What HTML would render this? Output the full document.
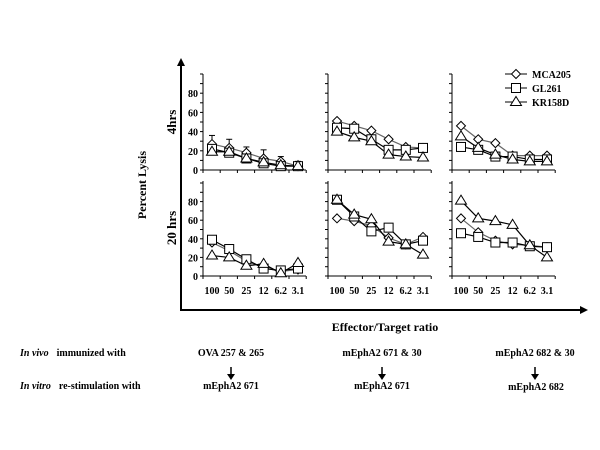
<!DOCTYPE html>
<html><head><meta charset="utf-8"><style>
body{margin:0;background:#fff}
svg{display:block;font-family:"Liberation Serif",serif;font-weight:bold}
</style></head><body>
<svg id="chart" width="600" height="450" viewBox="0 0 600 450">
<defs><marker id="ah" markerWidth="8" markerHeight="8" refX="4" refY="4" orient="auto" markerUnits="userSpaceOnUse"><path d="M0,0 L8,4 L0,8 z" fill="#000"/></marker></defs>
<line x1="181" y1="310" x2="181" y2="62" stroke="#000" stroke-width="2" marker-end="url(#ah)"/>
<line x1="180" y1="310" x2="584" y2="310" stroke="#000" stroke-width="2" marker-end="url(#ah)"/>
<text x="146" y="185" font-size="12" transform="rotate(-90 146 185)" text-anchor="middle">Percent Lysis</text>
<text x="176" y="122" font-size="13" transform="rotate(-90 176 122)" text-anchor="middle">4hrs</text>
<text x="176" y="228" font-size="13" transform="rotate(-90 176 228)" text-anchor="middle">20 hrs</text>
<text x="385" y="331" font-size="12" text-anchor="middle">Effector/Target ratio</text>
<g font-size="10" id="legend"></g>
<g id="plots"></g>
<g font-size="10">
<text x="20" y="356"><tspan font-style="italic">In vivo</tspan><tspan dx="8">immunized with</tspan></text>
<text x="20" y="389"><tspan font-style="italic">In vitro</tspan><tspan dx="8">re-stimulation with</tspan></text>
<text x="231" y="356" text-anchor="middle">OVA  257 &amp; 265</text>
<text x="382" y="356" text-anchor="middle">mEphA2  671 &amp; 30</text>
<text x="535" y="356" text-anchor="middle">mEphA2  682 &amp; 30</text>
<text x="231" y="389" text-anchor="middle">mEphA2  671</text>
<text x="382" y="389" text-anchor="middle">mEphA2  671</text>
<text x="536" y="390" text-anchor="middle">mEphA2  682</text>
<g stroke="#000" stroke-width="1.5"><line x1="231" y1="367" x2="231" y2="375"/><line x1="382" y1="367" x2="382" y2="375"/><line x1="535" y1="367" x2="535" y2="375"/></g>
<g fill="#000"><path d="M227,374 L235,374 L231,380z"/><path d="M378,374 L386,374 L382,380z"/><path d="M531,374 L539,374 L535,380z"/></g>
</g>
</svg>
<script>
const categories=["100","50","25","12","6.2","3.1"];
const yTicks=[0,20,40,60,80];
const seriesNames=["MCA205","GL261","KR158D"];
const top1MCA=[27,23,18,12,9,4], top1GL=[22,18,12,7,4,4], top1KR=[19,19,12,8,5,4];
const top1Err=[9,9,6,9,5,5];
const top2MCA=[51,46,41,32,24,23], top2GL=[44,43,32,21,21,23], top2KR=[40,34,30,16,14,13];
const top3MCA=[46,32,28,15,15,15], top3GL=[24,21,14,14,11,11], top3KR=[35,23,16,11,9,9];
const bot1MCA=[36,27,16,9,5,7], bot1GL=[39,29,18,8,6,8], bot1KR=[22,20,11,13,3,14];
const bot2MCA=[62,59,54,41,34,42], bot2GL=[82,64,48,52,34,38], bot2KR=[82,66,61,37,34,23];
const bot3MCA=[62,47,38,34,33,31], bot3GL=[46,42,36,36,32,31], bot3KR=[81,62,59,55,33,20];

const NS="http://www.w3.org/2000/svg";
const plots=document.getElementById('plots');
function mk(tag,attrs,parent){const e=document.createElementNS(NS,tag);for(const k in attrs)e.setAttribute(k,attrs[k]);parent.appendChild(e);return e;}
const colXs=[203,328,452];
const rows=[{y0:170,s:0.96,top:74},{y0:276,s:0.93,top:181}];
function marker(kind,x,y,g){
  if(kind==0) return mk('path',{d:`M${x},${y-4.5} L${x+4.5},${y} L${x},${y+4.5} L${x-4.5},${y}z`,fill:'#fff',stroke:'#000','stroke-width':1},g);
  if(kind==1) return mk('rect',{x:x-4.5,y:y-4.5,width:9,height:9,fill:'#fff',stroke:'#000','stroke-width':1},g);
  return mk('path',{d:`M${x},${y-5.5} L${x+5.5},${y+3.5} L${x-5.5},${y+3.5}z`,fill:'#fff',stroke:'#000','stroke-width':1},g);
}
const panelData=[[[top1MCA,top1GL,top1KR],[top2MCA,top2GL,top2KR],[top3MCA,top3GL,top3KR]],
                 [[bot1MCA,bot1GL,bot1KR],[bot2MCA,bot2GL,bot2KR],[bot3MCA,bot3GL,bot3KR]]];
rows.forEach((r,ri)=>{colXs.forEach((ax,ci)=>{
  const g=mk('g',{},plots);
  
  
  const xs=i=>ax+9+i*17.2, ys=v=>r.y0-v*r.s;
  mk('line',{x1:ax,y1:r.top,x2:ax,y2:r.y0,stroke:'#000','stroke-width':1},g);
  mk('line',{x1:ax,y1:r.y0,x2:ax+103,y2:r.y0,stroke:'#000','stroke-width':1},g);
  for(let v=0;v<=100;v+=10) mk('line',{x1:ax-3,y1:ys(v),x2:ax,y2:ys(v),stroke:'#000'},g);
  for(let i=0;i<=6;i++) mk('line',{x1:ax+i*17.2,y1:r.y0,x2:ax+i*17.2,y2:r.y0+3,stroke:'#000'},g);
  if(ci==0) yTicks.forEach(t=>{const tx=mk('text',{x:ax-5,y:ys(t)+4,'font-size':10,'text-anchor':'end'},g);tx.textContent=t;});
  if(ri==1) categories.forEach((c,i)=>{const tx=mk('text',{x:xs(i),y:294,'font-size':10,'text-anchor':'middle'},g);tx.textContent=c;});
  if(ri==0&&ci==0) top1MCA.forEach((v,i)=>{const yt=ys(v+top1Err[i]);mk('line',{x1:xs(i),y1:ys(v),x2:xs(i),y2:yt,stroke:'#000'},g);mk('line',{x1:xs(i)-3,y1:yt,x2:xs(i)+3,y2:yt,stroke:'#000'},g);});
  panelData[ri][ci].forEach((arr,si)=>{
    const pl=mk('polyline',{points:arr.map((v,i)=>xs(i)+','+ys(v)).join(' '),fill:'none',stroke:si==0?'#666':'#000','stroke-width':1.2},g);
    
    
  });
  panelData[ri][ci].forEach((arr,si)=>arr.forEach((v,i)=>{
    const m=marker(si,xs(i),ys(v),g);
    
    
  }));
});});
const lg=document.getElementById('legend');
seriesNames.forEach((n,i)=>{
  const y=74+i*14;
  const e=mk('g',{},lg);
  
  
  mk('line',{x1:505,y1:y,x2:527,y2:y,stroke:'#000'},e);
  marker(i,516,y,e);
  const t=mk('text',{x:532,y:y+4},e);t.textContent=n;
});
</script>
</body></html>
